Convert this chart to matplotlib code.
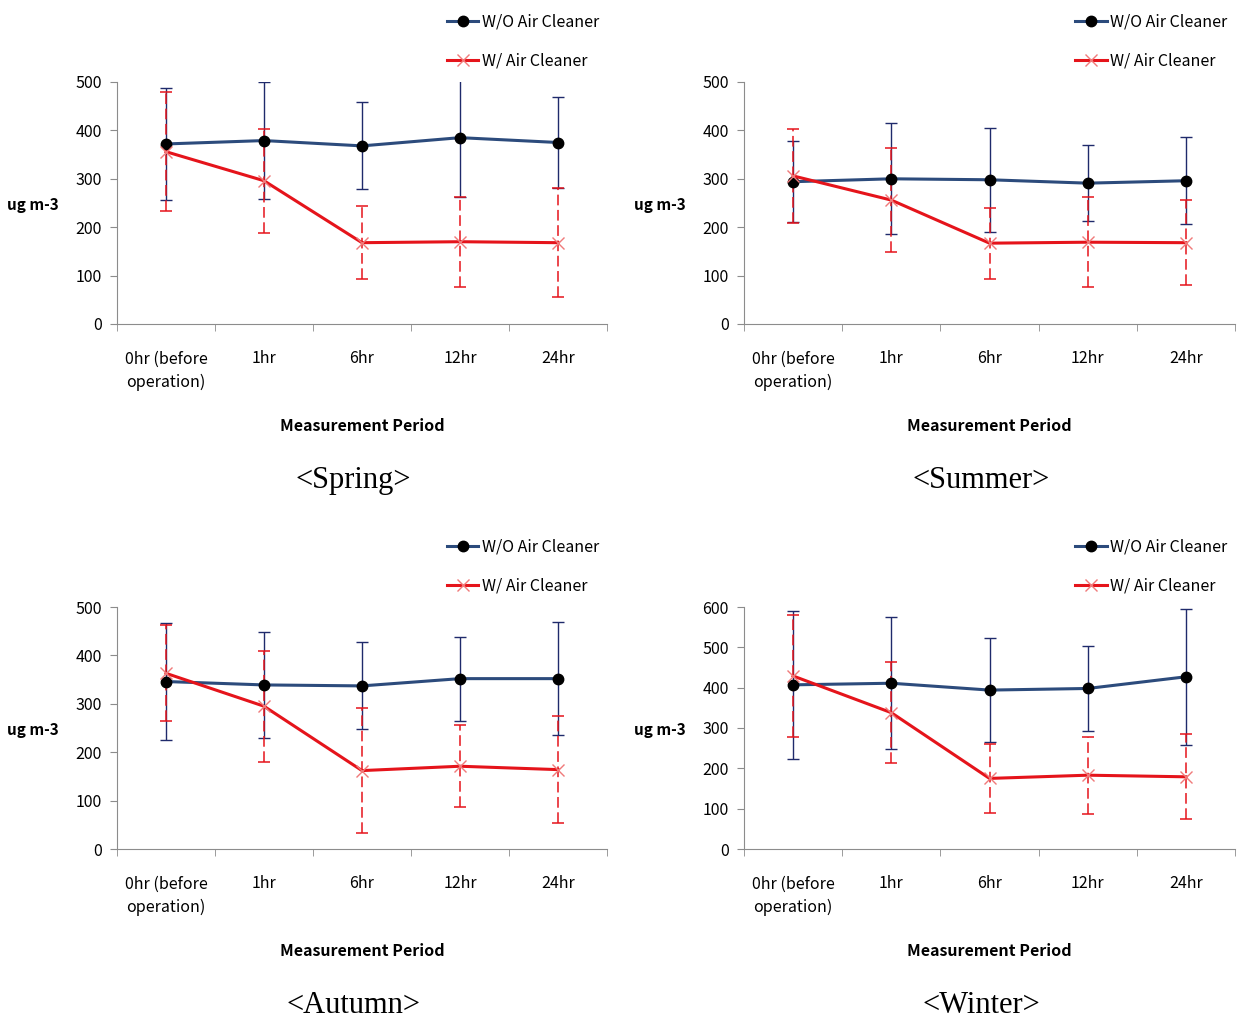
import numpy as np
import matplotlib
matplotlib.use('Agg')
import matplotlib.pyplot as plt

plt.rcParams['font.family'] = ['Noto Sans CJK KR', 'DejaVu Sans']

periods = ['0hr (before\noperation)', '1hr', '6hr', '12hr', '24hr']
seasons = ['<Spring>', '<Summer>', '<Autumn>', '<Winter>']

# W/O air cleaner: means and error sizes per season
wo_mean = [[372, 379, 368, 385, 375],
           [294, 300, 298, 291, 296],
           [346, 339, 337, 352, 352],
           [407, 411, 394, 398, 427]]
wo_err = [[115, 120, 90, 122, 95],
          [84, 115, 107, 78, 90],
          [120, 110, 90, 87, 117],
          [184, 164, 129, 105, 168]]

# W/ air cleaner
w_mean = [[356, 296, 168, 170, 168],
          [306, 256, 167, 169, 168],
          [363, 295, 162, 171, 164],
          [429, 338, 175, 183, 179]]
w_err = [[123, 107, 76, 93, 112],
         [97, 107, 73, 93, 88],
         [99, 115, 129, 85, 110],
         [152, 125, 86, 95, 105]]

ymax = [500, 500, 500, 600]
ystep = [100, 100, 100, 100]

W, H = 1241, 1019
fig = plt.figure(figsize=(W / 100, H / 100), dpi=100)

# axes boxes in pixels: left, top, right, bottom
boxes = [(117, 82, 607, 324), (744, 82, 1235, 324),
         (117, 607, 607, 849), (744, 607, 1235, 849)]

blue = '#2C4B7C'
blue_err = '#1F2A6B'
red = '#E5141B'
gray = '#8C8C8C'

for i in range(4):
    l, t, r, b = boxes[i]
    ax = fig.add_axes([l / W, 1 - b / H, (r - l) / W, (b - t) / H])
    x = np.arange(len(periods))

    e1 = ax.errorbar(x, wo_mean[i], yerr=wo_err[i], fmt='none', ecolor=blue_err,
                     elinewidth=1, capsize=4, capthick=1, zorder=2)
    e2 = ax.errorbar(x, w_mean[i], yerr=w_err[i], fmt='none', ecolor=red,
                     elinewidth=1.1, capsize=4, capthick=1.1, zorder=3)
    e2[2][0].set_linestyle((0, (7, 3)))

    ax.plot(x, wo_mean[i], color=blue, lw=2.2, marker='o', ms=7.5,
            mfc='black', mec='black', zorder=4, label='W/O Air Cleaner')
    ax.plot(x, w_mean[i], color=red, lw=2.2, marker='x', ms=8, mew=1,
            mec='#F07A7A', zorder=5, label='W/ Air Cleaner')

    ax.set_xlim(-0.5, 4.5)
    ax.set_ylim(0, ymax[i])
    ax.set_yticks(np.arange(0, ymax[i] + 1, ystep[i]))
    ax.set_xticks(x)
    ax.set_xticklabels(periods, fontsize=11.5, linespacing=1.5, va='top')
    ax.set_xticks(np.arange(-0.5, 5, 1), minor=True)
    ax.tick_params(axis='x', which='major', length=0, pad=19)
    ax.tick_params(axis='x', which='minor', length=5, color=gray, direction='out')
    ax.tick_params(axis='y', length=5, color=gray, pad=6, labelsize=11.5)

    for s in ['top', 'right']:
        ax.spines[s].set_visible(False)
    ax.spines['left'].set_color(gray)
    ax.spines['bottom'].set_color(gray)

    ax.text(-0.171, 0.49, 'ug m-3', transform=ax.transAxes, ha='center',
            va='center', fontsize=11, fontweight='bold')
    ax.text(0.5, -0.42, 'Measurement Period', transform=ax.transAxes,
            ha='center', va='center', fontsize=11.5, fontweight='bold')
    ax.text(0.483, -0.645, seasons[i], transform=ax.transAxes, ha='center',
            va='center', fontsize=22, family='Liberation Serif')

    ax.legend(loc='lower right', bbox_to_anchor=(1.008, 1.005), frameon=False,
              fontsize=11.5, labelspacing=1.4, handlelength=2.0,
              handletextpad=0.25, borderaxespad=0.3)

fig.savefig('out.png', dpi=100, facecolor='white')
